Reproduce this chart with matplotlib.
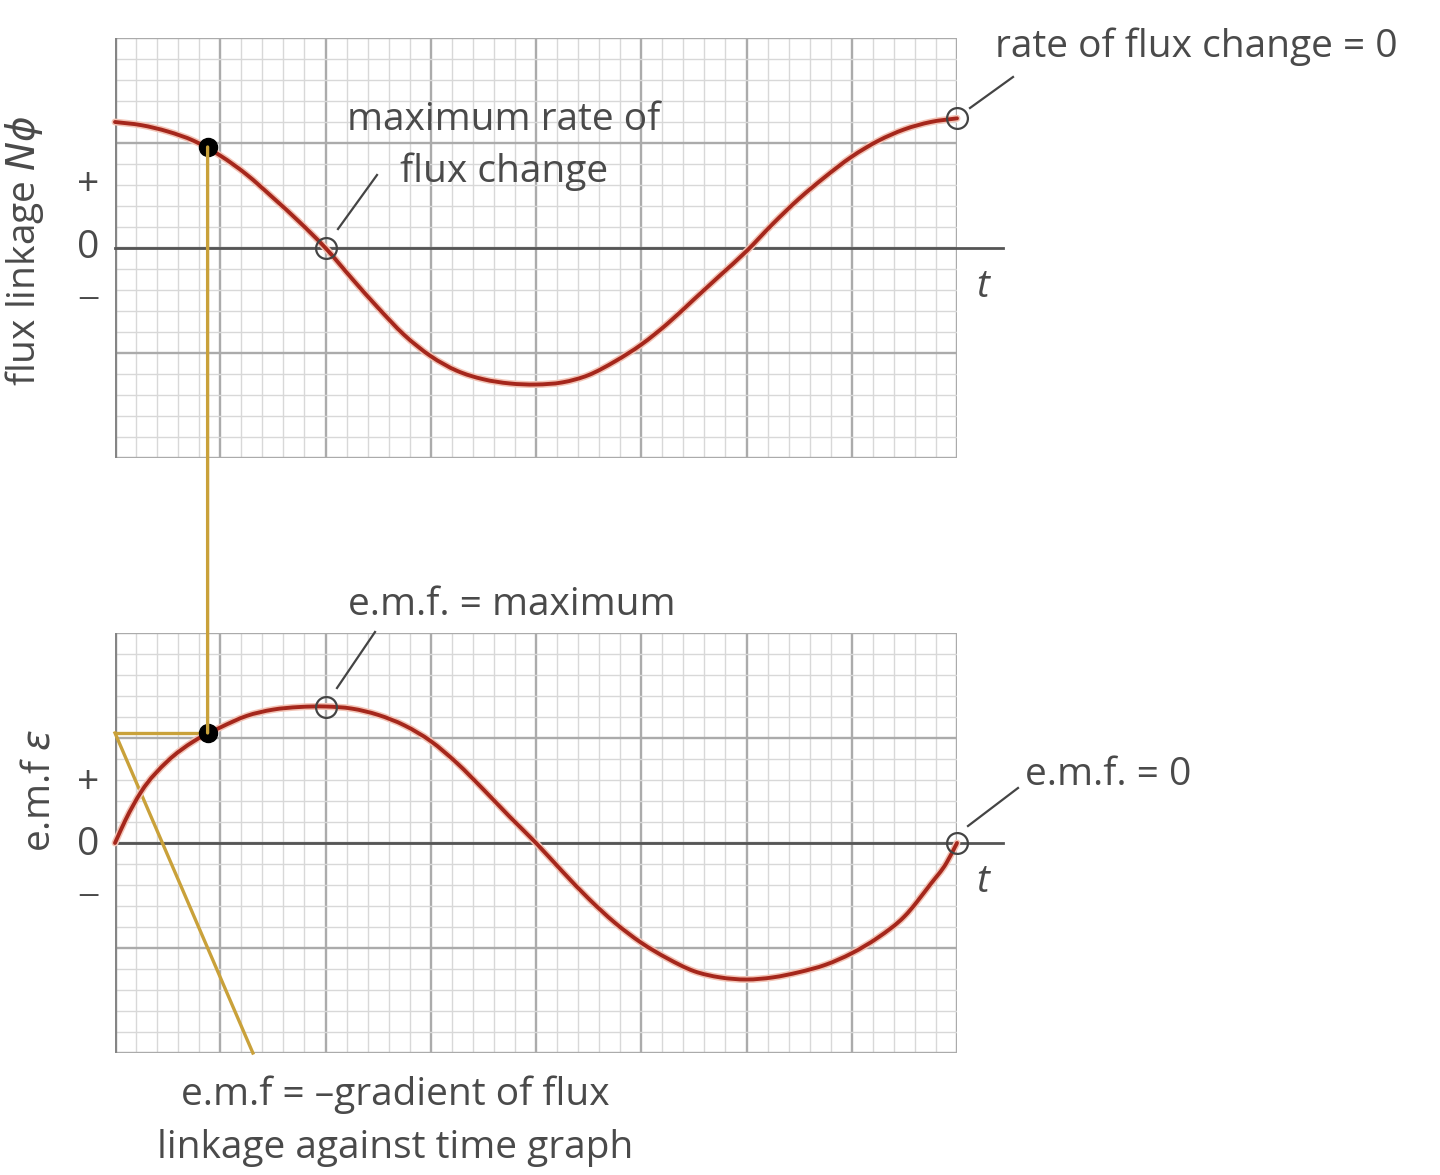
import matplotlib
matplotlib.use("Agg")
import matplotlib.pyplot as plt
from matplotlib.ticker import MultipleLocator
from matplotlib.patches import ConnectionPatch, PathPatch
from matplotlib.path import Path
from matplotlib.lines import Line2D
import matplotlib.patheffects as pe

# ---------------- data ----------------
t_flux = [0, 0.25, 0.5, 0.75, 1.0, 1.25, 1.5, 1.75, 2.0, 2.25, 2.5, 2.75, 3.0,
          3.25, 3.5, 3.75, 4.0, 4.25, 4.5, 4.75, 5.0, 5.25, 5.5, 5.75, 6.0,
          6.25, 6.5, 6.75, 7.0, 7.25, 7.5, 7.75, 8.0]
flux = [1.20, 1.17, 1.11, 1.02, 0.88, 0.70, 0.48, 0.25, 0.00, -0.29, -0.57,
        -0.83, -1.03, -1.17, -1.25, -1.29, -1.30, -1.28, -1.21, -1.08, -0.92,
        -0.72, -0.49, -0.26, -0.03, 0.23, 0.47, 0.68, 0.87, 1.02, 1.13, 1.20,
        1.235]

t_emf = [0, 0.1, 0.25, 0.5, 0.75, 1.0, 1.25, 1.5, 1.75, 2.0, 2.25, 2.5, 2.75,
         3.0, 3.25, 3.5, 3.75, 4.0, 4.25, 4.5, 4.75, 5.0, 5.25, 5.5, 5.75,
         6.0, 6.25, 6.5, 6.75, 7.0, 7.25, 7.5, 7.75, 7.9, 8.0]
emf = [0.00, 0.22, 0.49, 0.78, 0.97, 1.10, 1.21, 1.27, 1.295, 1.30, 1.28,
       1.22, 1.12, 0.97, 0.76, 0.51, 0.25, 0.00, -0.27, -0.53, -0.76, -0.95,
       -1.10, -1.22, -1.28, -1.30, -1.28, -1.23, -1.16, -1.05, -0.90, -0.70,
       -0.39, -0.19, 0.00]

t_marker = 0.88
flux_marker = 0.962
emf_marker = 1.048
flux_open_t = [2.0, 8.0]
flux_open_v = [0.0, 1.235]
emf_open_t = [2.0, 8.0]
emf_open_v = [1.30, 0.0]
tangent_t = [0.0, 1.31]
tangent_v = [1.048, -2.0]

# ---------------- styling ----------------
W, H = 1440, 1175
FONT = "Open Sans"
TXT = "#4a4a4a"
RED = "#a5271c"
GOLD = "#c9a13a"
plt.rcParams["font.family"] = [FONT, "DejaVu Sans"]
plt.rcParams["mathtext.fontset"] = "custom"
plt.rcParams["mathtext.rm"] = FONT
plt.rcParams["mathtext.it"] = "DejaVu Sans:italic"

fig = plt.figure(figsize=(W / 100, H / 100), dpi=100)
fig.patch.set_facecolor("white")


def fx(x):
    return x / W


def fy(y):
    return 1 - y / H


def make_axes(top_px, bottom_px):
    ax = fig.add_axes([fx(115), fy(bottom_px), 842 / W, (bottom_px - top_px) / H])
    ax.set_xlim(0, 8)
    ax.set_ylim(-2, 2)
    ax.xaxis.set_major_locator(MultipleLocator(1))
    ax.xaxis.set_minor_locator(MultipleLocator(0.2))
    ax.yaxis.set_major_locator(MultipleLocator(1))
    ax.yaxis.set_minor_locator(MultipleLocator(0.2))
    ax.grid(which="minor", color="#d8d8d8", lw=1.0, zorder=0)
    ax.grid(which="major", color="#ababab", lw=1.7, zorder=0)
    ax.tick_params(which="both", length=0, labelbottom=False, labelleft=False)
    for s in ax.spines.values():
        s.set_visible(False)
    ax.set_axisbelow(True)
    ax.axvline(0, color="#858585", lw=2.4, zorder=1)
    ax.plot([0, 8.44], [0, 0], color="#555555", lw=2.0, clip_on=False, zorder=2)
    return ax


def smooth_curve(ax, xs, ys):
    """Draw a smooth (cubic Hermite) curve through the read points."""
    n = len(xs)
    h = [xs[i + 1] - xs[i] for i in range(n - 1)]
    s = [(ys[i + 1] - ys[i]) / h[i] for i in range(n - 1)]
    d = [0.0] * n
    d[0] = s[0]
    d[-1] = s[-1]
    for i in range(1, n - 1):
        d[i] = (s[i - 1] * h[i] + s[i] * h[i - 1]) / (h[i - 1] + h[i])
    verts = [(xs[0], ys[0])]
    codes = [Path.MOVETO]
    for i in range(n - 1):
        verts += [(xs[i] + h[i] / 3, ys[i] + d[i] * h[i] / 3),
                  (xs[i + 1] - h[i] / 3, ys[i + 1] - d[i + 1] * h[i] / 3),
                  (xs[i + 1], ys[i + 1])]
        codes += [Path.CURVE4] * 3
    path = Path(verts, codes)
    patch = PathPatch(path, facecolor="none", edgecolor=RED, lw=2.8, zorder=4,
                      capstyle="round", clip_on=False,
                      path_effects=[pe.Stroke(linewidth=5.0, foreground="#f3c4b6"),
                                    pe.Normal()])
    ax.add_patch(patch)


ax1 = make_axes(38, 458)
ax2 = make_axes(633, 1053)

smooth_curve(ax1, t_flux, flux)
smooth_curve(ax2, t_emf, emf)

# yellow construction lines
ax2.plot([0, t_marker], [emf_marker, emf_marker], color=GOLD, lw=2.4, zorder=3)
ax2.plot(tangent_t, tangent_v, color=GOLD, lw=2.4, zorder=3, clip_on=False)
con = ConnectionPatch(xyA=(t_marker, flux_marker), coordsA=ax1.transData,
                      xyB=(t_marker, emf_marker), coordsB=ax2.transData,
                      color=GOLD, lw=2.4, zorder=3)
fig.add_artist(con)

# markers
ax1.plot([t_marker], [flux_marker], "o", ms=13, color="black", zorder=6)
ax2.plot([t_marker], [emf_marker], "o", ms=13, color="black", zorder=6)
ax1.plot(flux_open_t, flux_open_v, "o", ms=15, mfc="none", mec="#444444",
         mew=1.6, zorder=6, clip_on=False)
ax2.plot(emf_open_t, emf_open_v, "o", ms=15, mfc="none", mec="#444444",
         mew=1.6, zorder=6, clip_on=False)

FS = 28


def label(x, y, s, ha="center", va="center", **kw):
    fig.text(fx(x), fy(y), s, ha=ha, va=va, color=TXT, fontsize=kw.pop("fs", FS), **kw)


# axis labels
label(25, 250, "flux linkage $N\u03d5$", rotation=90)
label(40, 790, "e.m.f $\u03b5$", rotation=90)
for yy, s in [(185, "+"), (248, "0"), (783, "+"), (845, "0")]:
    label(88, yy, s)
for yy in (299, 896):
    label(88, yy, "\u2013", fs=32, fontweight="light")
label(983, 287, "t", style="italic")
label(983, 882, "t", style="italic")

# annotations
label(504, 120, "maximum rate of")
label(504, 172, "flux change")
label(995, 47, "rate of flux change = 0", ha="left")
label(512, 605, "e.m.f. = maximum")
label(1025, 775, "e.m.f. = 0", ha="left")
label(395, 1095, "e.m.f = \u2013gradient of flux")
label(395, 1148, "linkage against time graph")

for (x0, y0, x1, y1) in [(377, 175, 338, 229), (1013, 77, 970, 108),
                          (375, 632, 337, 688), (1018, 788, 968, 826)]:
    fig.add_artist(Line2D([fx(x0), fx(x1)], [fy(y0), fy(y1)], color="#444444",
                          lw=1.6, transform=fig.transFigure))

fig.savefig("out.png", dpi=100, facecolor="white")
